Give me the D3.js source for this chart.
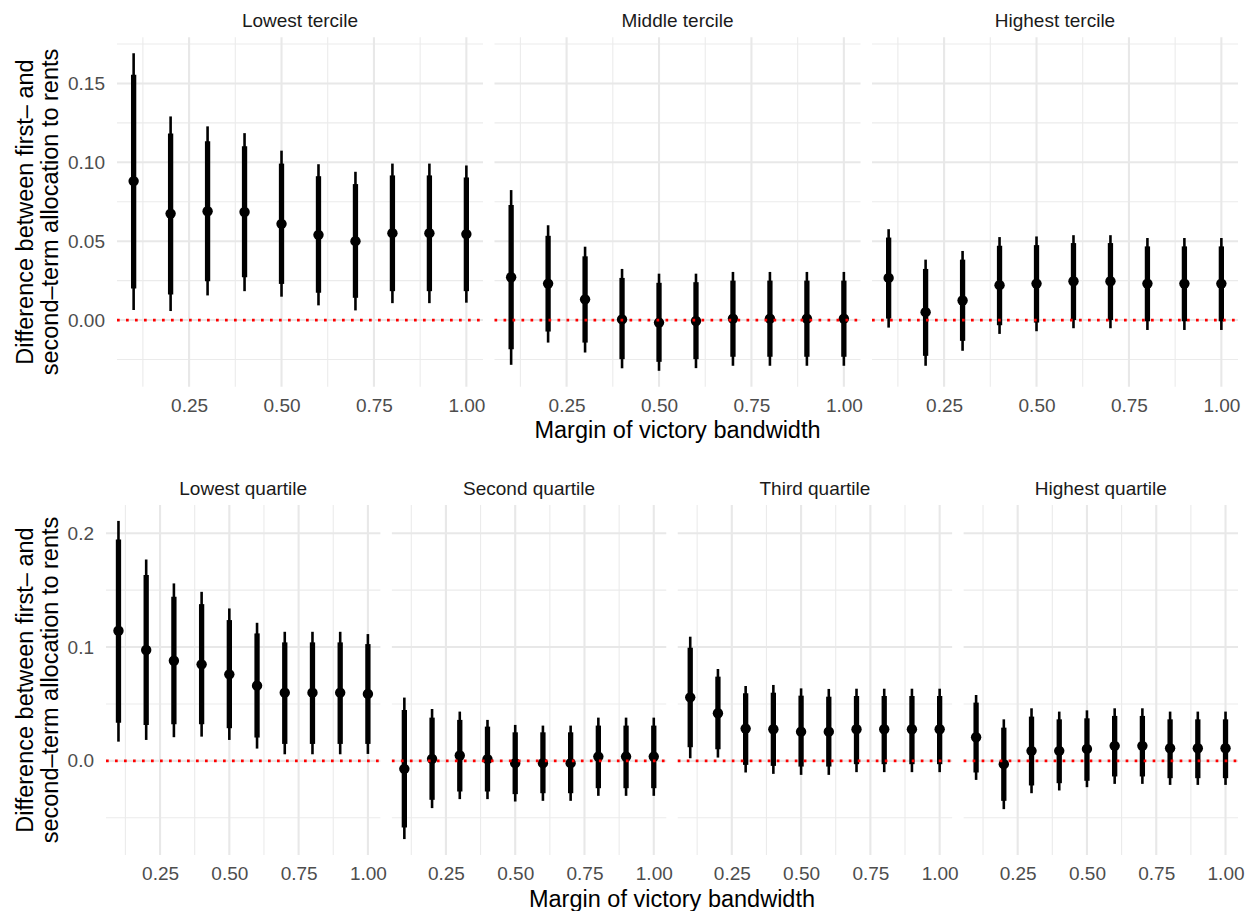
<!DOCTYPE html>
<html>
<head>
<meta charset="utf-8">
<script src="https://cdn.jsdelivr.net/npm/d3@7"></script>
<style>
  body { margin: 0; background: #fff; }
  svg { display: block; font-family: "Liberation Sans", Arial, sans-serif; }
</style>
</head>
<body>
<div id="chart"></div>
<script>
// bandwidths on the x axis
const bandwidth = [0.1, 0.2, 0.3, 0.4, 0.5, 0.6, 0.7, 0.8, 0.9, 1.0]

const tercileTitles = ['Lowest tercile', 'Middle tercile', 'Highest tercile']
const quartileTitles = ['Lowest quartile', 'Second quartile', 'Third quartile', 'Highest quartile']

// rows: [estimate, outer low, inner low, inner high, outer high]
const lowestTercile = [
  [0.0881, 0.0063, 0.0200, 0.1556, 0.1692],
  [0.0675, 0.0057, 0.0162, 0.1182, 0.1291],
  [0.0690, 0.0156, 0.0246, 0.1133, 0.1228],
  [0.0685, 0.0183, 0.0271, 0.1102, 0.1185],
  [0.0610, 0.0148, 0.0229, 0.0992, 0.1074],
  [0.0540, 0.0093, 0.0173, 0.0912, 0.0988],
  [0.0500, 0.0061, 0.0141, 0.0862, 0.0940],
  [0.0551, 0.0107, 0.0183, 0.0917, 0.0992],
  [0.0551, 0.0107, 0.0183, 0.0917, 0.0992],
  [0.0545, 0.0110, 0.0183, 0.0904, 0.0980]
]
const middleTercile = [
  [0.0271, -0.0284, -0.0185, 0.0730, 0.0824],
  [0.0231, -0.0143, -0.0073, 0.0534, 0.0601],
  [0.0131, -0.0206, -0.0143, 0.0404, 0.0465],
  [0.0004, -0.0306, -0.0248, 0.0267, 0.0324],
  [-0.0016, -0.0322, -0.0265, 0.0236, 0.0294],
  [-0.0006, -0.0305, -0.0248, 0.0240, 0.0294],
  [0.0009, -0.0290, -0.0233, 0.0250, 0.0305],
  [0.0009, -0.0290, -0.0233, 0.0250, 0.0305],
  [0.0009, -0.0290, -0.0233, 0.0250, 0.0305],
  [0.0009, -0.0290, -0.0233, 0.0250, 0.0305]
]
const highestTercile = [
  [0.0267, -0.0048, 0.0009, 0.0523, 0.0576],
  [0.0050, -0.0290, -0.0227, 0.0324, 0.0383],
  [0.0124, -0.0195, -0.0132, 0.0383, 0.0438],
  [0.0221, -0.0088, -0.0033, 0.0471, 0.0526],
  [0.0231, -0.0071, -0.0016, 0.0475, 0.0530],
  [0.0246, -0.0052, 0.0000, 0.0488, 0.0538],
  [0.0246, -0.0052, 0.0000, 0.0488, 0.0538],
  [0.0231, -0.0063, -0.0008, 0.0467, 0.0520],
  [0.0231, -0.0063, -0.0008, 0.0467, 0.0520],
  [0.0231, -0.0063, -0.0008, 0.0467, 0.0520]
]
const lowestQuartile = [
  [0.1143, 0.0169, 0.0336, 0.1944, 0.2108],
  [0.0974, 0.0184, 0.0316, 0.1632, 0.1769],
  [0.0880, 0.0208, 0.0322, 0.1441, 0.1559],
  [0.0848, 0.0213, 0.0322, 0.1377, 0.1485],
  [0.0760, 0.0184, 0.0287, 0.1237, 0.1339],
  [0.0661, 0.0108, 0.0205, 0.1120, 0.1213],
  [0.0599, 0.0058, 0.0149, 0.1041, 0.1134],
  [0.0599, 0.0058, 0.0149, 0.1041, 0.1134],
  [0.0599, 0.0058, 0.0149, 0.1041, 0.1134],
  [0.0588, 0.0061, 0.0149, 0.1026, 0.1114]
]
const secondQuartile = [
  [-0.0070, -0.0687, -0.0585, 0.0447, 0.0556],
  [0.0018, -0.0415, -0.0342, 0.0380, 0.0456],
  [0.0047, -0.0336, -0.0269, 0.0360, 0.0433],
  [0.0015, -0.0336, -0.0269, 0.0301, 0.0360],
  [-0.0020, -0.0357, -0.0292, 0.0251, 0.0316],
  [-0.0020, -0.0351, -0.0284, 0.0251, 0.0310],
  [-0.0020, -0.0351, -0.0284, 0.0251, 0.0310],
  [0.0038, -0.0307, -0.0240, 0.0310, 0.0380],
  [0.0038, -0.0307, -0.0240, 0.0310, 0.0380],
  [0.0038, -0.0307, -0.0240, 0.0310, 0.0380]
]
const thirdQuartile = [
  [0.0558, 0.0023, 0.0120, 0.0994, 0.1091],
  [0.0418, 0.0029, 0.0102, 0.0740, 0.0807],
  [0.0284, -0.0102, -0.0035, 0.0594, 0.0658],
  [0.0278, -0.0114, -0.0044, 0.0599, 0.0667],
  [0.0257, -0.0123, -0.0050, 0.0573, 0.0637],
  [0.0257, -0.0123, -0.0050, 0.0564, 0.0632],
  [0.0278, -0.0099, -0.0029, 0.0570, 0.0634],
  [0.0278, -0.0099, -0.0029, 0.0570, 0.0634],
  [0.0278, -0.0099, -0.0029, 0.0570, 0.0634],
  [0.0278, -0.0099, -0.0029, 0.0570, 0.0634]
]
const highestQuartile = [
  [0.0208, -0.0167, -0.0102, 0.0512, 0.0579],
  [-0.0029, -0.0424, -0.0351, 0.0292, 0.0365],
  [0.0088, -0.0284, -0.0216, 0.0389, 0.0462],
  [0.0088, -0.0260, -0.0196, 0.0365, 0.0433],
  [0.0105, -0.0231, -0.0175, 0.0374, 0.0444],
  [0.0132, -0.0202, -0.0137, 0.0395, 0.0462],
  [0.0132, -0.0202, -0.0137, 0.0395, 0.0462],
  [0.0111, -0.0211, -0.0152, 0.0365, 0.0433],
  [0.0111, -0.0211, -0.0152, 0.0365, 0.0433],
  [0.0111, -0.0211, -0.0152, 0.0365, 0.0433]
]

const xMajor = [0.25, 0.5, 0.75, 1.0]
const xMinor = [0.125, 0.375, 0.625, 0.875]
const tercileTicks = [0, 0.05, 0.10, 0.15]
const tercileMinor = [-0.025, 0.025, 0.075, 0.125, 0.175]
const quartileTicks = [0, 0.1, 0.2]
const quartileMinor = [-0.05, 0.05, 0.15]

const xTitle = 'Margin of victory bandwidth'
const yTitle = ['Difference between first\u2013 and', 'second\u2013term allocation to rents']

const W = 1251, H = 911
const svg = d3.select('#chart').append('svg')
  .attr('width', W).attr('height', H)

svg.append('rect').attr('width', W).attr('height', H).attr('fill', '#fff')

const expand = ext => {
  const pad = (ext[1] - ext[0]) * 0.05
  return [ext[0] - pad, ext[1] + pad]
}

const drawRow = (opts) => {
  const { panels, titles, left, right, top, bottom, ticks, minor, fmt } = opts
  const gap = 11.5
  const n = panels.length
  const pw = (right - left - gap * (n - 1)) / n

  const all = panels.flat()
  const yDomain = expand([d3.min(all, d => d[1]), d3.max(all, d => d[4])])
  const y = d3.scaleLinear().domain(yDomain).range([bottom, top])

  panels.forEach((rows, i) => {
    const x0 = left + i * (pw + gap)
    const x = d3.scaleLinear()
      .domain(expand(d3.extent(bandwidth)))
      .range([x0, x0 + pw])

    const g = svg.append('g')

    // grid
    g.selectAll('.hmin').data(minor).enter().append('line')
      .attr('x1', x0).attr('x2', x0 + pw)
      .attr('y1', d => y(d)).attr('y2', d => y(d))
      .attr('stroke', '#ebebeb').attr('stroke-width', 1.1)
    g.selectAll('.vmin').data(xMinor).enter().append('line')
      .attr('x1', d => x(d)).attr('x2', d => x(d))
      .attr('y1', top).attr('y2', bottom)
      .attr('stroke', '#ebebeb').attr('stroke-width', 1.1)
    g.selectAll('.hmaj').data(ticks).enter().append('line')
      .attr('x1', x0).attr('x2', x0 + pw)
      .attr('y1', d => y(d)).attr('y2', d => y(d))
      .attr('stroke', '#e8e8e8').attr('stroke-width', 2.1)
    g.selectAll('.vmaj').data(xMajor).enter().append('line')
      .attr('x1', d => x(d)).attr('x2', d => x(d))
      .attr('y1', top).attr('y2', bottom)
      .attr('stroke', '#e8e8e8').attr('stroke-width', 2.1)

    // intervals
    const pts = g.selectAll('.pt').data(rows).enter().append('g')
    pts.append('line')
      .attr('x1', (d, j) => x(bandwidth[j])).attr('x2', (d, j) => x(bandwidth[j]))
      .attr('y1', d => y(d[1])).attr('y2', d => y(d[4]))
      .attr('stroke', '#000').attr('stroke-width', 2.6)
    pts.append('line')
      .attr('x1', (d, j) => x(bandwidth[j])).attr('x2', (d, j) => x(bandwidth[j]))
      .attr('y1', d => y(d[2])).attr('y2', d => y(d[3]))
      .attr('stroke', '#000').attr('stroke-width', 5.3)
    pts.append('circle')
      .attr('cx', (d, j) => x(bandwidth[j])).attr('cy', d => y(d[0]))
      .attr('r', 5.2).attr('fill', '#000')

    // zero reference
    g.append('line')
      .attr('x1', x0).attr('x2', x0 + pw)
      .attr('y1', y(0)).attr('y2', y(0))
      .attr('stroke', 'red').attr('stroke-width', 2.7)
      .attr('stroke-dasharray', '2.7 6.3')

    // strip
    svg.append('text')
      .attr('x', x0 + pw / 2).attr('y', top - 10.5)
      .attr('text-anchor', 'middle')
      .attr('font-size', 19).attr('fill', '#1a1a1a')
      .text(titles[i])

    // x axis
    svg.append('g')
      .attr('transform', 'translate(0,' + bottom + ')')
      .call(d3.axisBottom(x).tickValues(xMajor).tickSize(0).tickPadding(12)
        .tickFormat(d3.format('.2f')))
      .call(a => a.select('.domain').remove())
      .call(a => a.selectAll('text')
        .attr('font-size', 19).attr('fill', '#4d4d4d')
        .attr('font-family', '"Liberation Sans", Arial, sans-serif'))

    if (i === 0) {
      svg.append('g')
        .attr('transform', 'translate(' + x0 + ',0)')
        .call(d3.axisLeft(y).tickValues(ticks).tickSize(0).tickPadding(12)
          .tickFormat(fmt))
        .call(a => a.select('.domain').remove())
        .call(a => a.selectAll('text')
          .attr('font-size', 19).attr('fill', '#4d4d4d')
          .attr('font-family', '"Liberation Sans", Arial, sans-serif'))
    }
  })

  // axis titles
  svg.append('text')
    .attr('x', (left + right) / 2).attr('y', bottom + 51.6)
    .attr('text-anchor', 'middle')
    .attr('font-size', 23.5).attr('fill', '#000')
    .text(xTitle)

  const cy = (top + bottom) / 2
  yTitle.forEach((t, k) => {
    svg.append('text')
      .attr('transform', 'translate(' + (33 + k * 25) + ',' + cy + ') rotate(-90)')
      .attr('text-anchor', 'middle')
      .attr('font-size', 23.5).attr('fill', '#000')
      .text(t)
  })
}

drawRow({
  panels: [lowestTercile, middleTercile, highestTercile],
  titles: tercileTitles,
  left: 117, right: 1238, top: 37.3, bottom: 386.7,
  ticks: tercileTicks, minor: tercileMinor,
  fmt: d3.format('.2f')
})

drawRow({
  panels: [lowestQuartile, secondQuartile, thirdQuartile, highestQuartile],
  titles: quartileTitles,
  left: 106, right: 1238, top: 505, bottom: 855,
  ticks: quartileTicks, minor: quartileMinor,
  fmt: d3.format('.1f')
})
</script>
</body>
</html>
